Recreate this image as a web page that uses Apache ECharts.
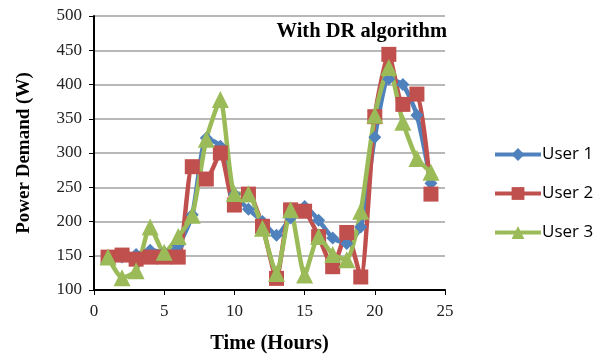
<!DOCTYPE html>
<html><head><meta charset="utf-8">
<script src="https://cdn.jsdelivr.net/npm/echarts@6/dist/echarts.min.js"></script>
<style>html,body{margin:0;padding:0;background:#fff}#c{width:603px;height:355px}</style>
</head><body><div id="c"></div>
<script>
const hours = [1,2,3,4,5,6,7,8,9,10,11,12,13,14,15,16,17,18,19,20,21,22,23,24];
const user1 = [150,148,152,158,155,165,210,322,310,240,218,200,180,205,222,202,176,168,192,323,408,400,355,256];
const user2 = [148,151,145,148,148,148,280,262,300,224,240,193,117,217,215,178,134,184,119,353,444,371,386,240];
const user3 = [148,118,128,192,155,178,209,320,378,241,240,190,124,217,122,178,152,144,215,355,425,345,292,272];
const seriesNames = ['User 1','User 2','User 3'];
const colors = ['#4F81BD','#C0504D','#9BBB59'];
const yTicks = [100,150,200,250,300,350,400,450,500];

function pairs(v){ return hours.map((h,i)=>[h,v[i]]); }
const chart = echarts.init(document.getElementById('c'));
const serif = '"Liberation Serif","DejaVu Serif",serif';
const mk = (name, data, color, symbol, size) => ({
  name, type:'line', data: pairs(data), smooth:0.2,
  symbol, symbolSize:size,
  lineStyle:{color, width:4.5}, itemStyle:{color},
  emphasis:{disabled:true}
});
chart.setOption({
  animation:false,
  color:colors,
  title:{text:'With DR algorithm', right:151, top:16,
    textStyle:{fontFamily:serif, fontWeight:'bold', fontSize:20.5, color:'#000'}},
  grid:{left:94, right:158, top:16, bottom:65, containLabel:false, outerBoundsMode:'none'},
  legend:{orient:'vertical', left:488, top:141, itemWidth:46, itemHeight:16, itemGap:22,
    data:seriesNames,
    lineStyle:{width:4},
    textStyle:{fontFamily:'"Open Sans","Liberation Sans",sans-serif', fontSize:17, color:'#000', padding:[0,0,0,-4]}},
  xAxis:{type:'value', min:0, max:25, interval:5,
    name:'Time (Hours)', nameLocation:'middle', nameGap:43,
    nameTextStyle:{fontFamily:serif, fontWeight:'bold', fontSize:20.5, color:'#000'},
    axisLine:{lineStyle:{color:'#000', width:2}},
    axisTick:{show:true, length:5, lineStyle:{color:'#000'}},
    axisLabel:{fontFamily:serif, fontSize:17, color:'#222', margin:13},
    splitLine:{show:false}},
  yAxis:{type:'value', min:yTicks[0], max:yTicks[yTicks.length-1], interval:50,
    name:'Power Demand (W)', nameLocation:'middle', nameGap:60,
    nameTextStyle:{fontFamily:serif, fontWeight:'bold', fontSize:19, color:'#000'},
    axisLine:{show:true, lineStyle:{color:'#000', width:2}},
    axisTick:{show:true, length:5, lineStyle:{color:'#000'}},
    axisLabel:{fontFamily:serif, fontSize:17, color:'#222', margin:12},
    splitLine:{show:true, lineStyle:{color:'#a0a0a0', width:1.5}}},
  series:[
    mk(seriesNames[0], user1, colors[0], 'diamond', 13),
    mk(seriesNames[1], user2, colors[1], 'rect', 15),
    mk(seriesNames[2], user3, colors[2], 'triangle', 17)
  ]
});
</script></body></html>
